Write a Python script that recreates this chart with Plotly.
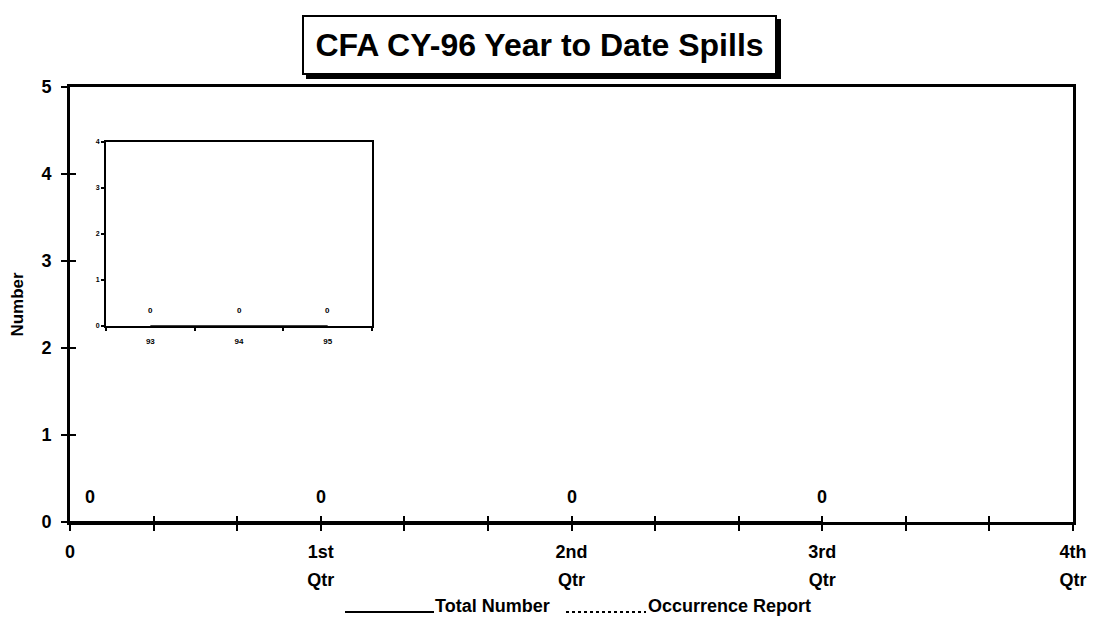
import plotly.graph_objects as go

# Quarterly spill counts (main chart)
quarter_pos = [0, 1, 2, 3]
total_number = [0, 0, 0, 0]
occurrence_report = [0, 0, 0, 0]

# Axis ticks: one tick per month, labels at quarter boundaries
month_ticks = [i / 3 for i in range(13)]
quarter_top = ["0", "", "", "1st", "", "", "2nd", "", "", "3rd", "", "", "4th"]
quarter_bottom = ["", "", "", "Qtr", "", "", "Qtr", "", "", "Qtr", "", "", "Qtr"]

# Prior calendar years (inset)
inset_years = ["93", "94", "95"]
inset_values = [0, 0, 0]

FONT = "Liberation Sans, Arial, sans-serif"
W, H = 1101, 620
L, R, T, B = 70, 1073, 87, 522


def px_x(p):
    return (p - L) / (R - L)


def px_y(p):
    return (B - p) / (B - T)


fig = go.Figure()

fig.add_trace(go.Scatter(
    x=quarter_pos, y=total_number, mode="lines",
    line=dict(color="black", width=2), name="Total Number",
    showlegend=False, cliponaxis=False,
))
fig.add_trace(go.Scatter(
    x=quarter_pos, y=occurrence_report, mode="lines",
    line=dict(color="black", width=2, dash="dot"), name="Occurrence Report",
    showlegend=False, cliponaxis=False,
))
# helper trace so the inside-tick overlay axes are drawn
fig.add_trace(go.Scatter(x=[], y=[], xaxis="x3", yaxis="y3", showlegend=False))

fig.add_trace(go.Scatter(
    x=inset_years, y=inset_values, mode="lines",
    line=dict(color="black", width=1.5), xaxis="x2", yaxis="y2",
    showlegend=False, cliponaxis=False,
))

annotations = []
# value labels on the main chart
for i, (xv, yv) in enumerate(zip(quarter_pos, total_number)):
    annotations.append(dict(
        x=xv, y=yv, xref="x", yref="y", text=f"<b>{yv}</b>",
        showarrow=False, yshift=25, xshift=20 if i == 0 else 0,
        font=dict(family=FONT, size=18, color="black"),
    ))
# value labels on the inset (category axis -> position by index)
for i, yv in enumerate(inset_values):
    annotations.append(dict(
        x=i, y=yv, xref="x2", yref="y2", text=f"<b>{yv}</b>",
        showarrow=False, yshift=16,
        font=dict(family=FONT, size=8, color="black"),
    ))

# title box
annotations.append(dict(
    x=px_x(539.5), y=px_y(45), xref="paper", yref="paper",
    text="<b>CFA CY-96 Year to Date Spills</b>", showarrow=False,
    font=dict(family=FONT, size=32, color="black"),
    bgcolor="white", bordercolor="black", borderwidth=2, borderpad=2,
    width=467, height=52, xanchor="center", yanchor="middle",
))

# legend text
annotations.append(dict(
    x=px_x(433), y=px_y(606), xref="paper", yref="paper",
    text="<b>Total Number</b>", showarrow=False,
    xanchor="left", yanchor="middle",
    font=dict(family=FONT, size=18, color="black"),
))
annotations.append(dict(
    x=px_x(646), y=px_y(606), xref="paper", yref="paper",
    text="<b>Occurrence Report</b>", showarrow=False,
    xanchor="left", yanchor="middle",
    font=dict(family=FONT, size=18, color="black"),
))

shapes = [
    # title drop shadow
    dict(type="rect", xref="paper", yref="paper",
         x0=px_x(306), x1=px_x(781), y0=px_y(79), y1=px_y(19),
         fillcolor="black", line=dict(width=0), layer="above"),
    # legend samples
    dict(type="line", xref="paper", yref="paper",
         x0=px_x(345), x1=px_x(434), y0=px_y(612), y1=px_y(612),
         line=dict(color="black", width=2)),
    dict(type="line", xref="paper", yref="paper",
         x0=px_x(566), x1=px_x(646), y0=px_y(612), y1=px_y(612),
         line=dict(color="black", width=2, dash="dot")),
]

axis_font = dict(family=FONT, size=18, color="black", weight="bold")

fig.update_layout(
    width=W, height=H,
    margin=dict(l=L, r=W - R, t=T, b=H - B),
    paper_bgcolor="white", plot_bgcolor="white",
    showlegend=False,
    annotations=annotations, shapes=shapes,
    xaxis=dict(
        range=[0, 4], tickmode="array", tickvals=month_ticks, ticktext=quarter_top,
        ticks="outside", ticklen=6, tickwidth=1.5, tickcolor="black",
        showline=True, linecolor="black", linewidth=3, mirror=True,
        showgrid=False, zeroline=False, tickfont=axis_font,
        ticklabelstandoff=5,
    ),
    yaxis=dict(
        range=[0, 5], tickmode="array", tickvals=[0, 1, 2, 3, 4, 5],
        ticks="outside", ticklen=6, tickwidth=1.5, tickcolor="black",
        showline=True, linecolor="black", linewidth=3, mirror=True,
        showgrid=False, zeroline=False, tickfont=axis_font,
        ticklabelstandoff=6,
        title=dict(text="Number", standoff=14,
                   font=dict(family=FONT, size=17, color="black", weight="bold")),
    ),
    xaxis3=dict(
        overlaying="x", anchor="y", range=[0, 4], tickmode="array",
        tickvals=month_ticks, ticktext=quarter_bottom,
        ticks="inside", ticklen=6, tickwidth=1.5, tickcolor="black",
        showline=False, showgrid=False, zeroline=False, tickfont=axis_font,
        ticklabelstandoff=45,
    ),
    yaxis3=dict(
        overlaying="y", anchor="x", range=[0, 5], tickmode="array",
        tickvals=[0, 1, 2, 3, 4, 5], showticklabels=False,
        ticks="inside", ticklen=6, tickwidth=1.5, tickcolor="black",
        showline=False, showgrid=False, zeroline=False,
    ),
    xaxis2=dict(
        domain=[px_x(106), px_x(372)], anchor="y2", type="category",
        categoryorder="array", categoryarray=inset_years,
        range=[-0.5, 2.5], tickangle=0,
        tickson="boundaries", ticks="outside", ticklen=3, tickwidth=1.5,
        tickcolor="black", showline=True, linecolor="black", linewidth=2,
        mirror=True, showgrid=False, zeroline=False,
        tickfont=dict(family=FONT, size=8, color="black", weight="bold"),
        ticklabelstandoff=6,
    ),
    yaxis2=dict(
        domain=[px_y(326), px_y(142)], anchor="x2", range=[0, 4],
        tickvals=[0, 1, 2, 3, 4], ticks="outside", ticklen=3, tickwidth=1.5,
        tickcolor="black", showline=True, linecolor="black", linewidth=2,
        mirror=True, showgrid=False, zeroline=False,
        tickfont=dict(family=FONT, size=7, color="black", weight="bold"),
    ),
)

fig.write_html("out.html")
